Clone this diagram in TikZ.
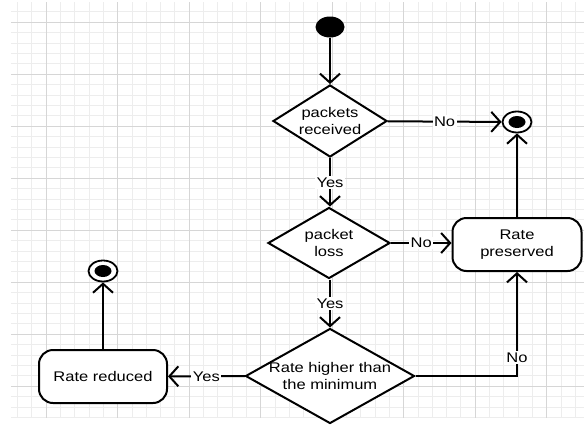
\documentclass[tikz,border=0pt]{standalone}
\usepackage{fontspec}
\usetikzlibrary{shapes.geometric,arrows.meta}
\newfontfamily\diagfam[FakeStretch=1.18]{Liberation Sans}
\newcommand\diagfont{\diagfam\fontsize{14}{17}\selectfont}
\tikzset{
  gminor/.style={draw=black!7, line width=0.6pt},
  gmajor/.style={draw=black!16, line width=0.8pt},
  conn/.style={line width=2pt, black},
  arr/.style={conn, -{Straight Barb[length=9pt,width=20pt,line width=2pt]}},
  dia/.style={draw, line width=2pt, diamond, inner sep=0pt, fill=white},
  txt/.style={align=center, font=\diagfont, inner sep=0pt},
  act/.style={draw, line width=2pt, rounded corners=14pt, fill=white,
    minimum width=129pt, minimum height=53pt, align=center, font=\diagfont},
  lbl/.style={fill=white, inner sep=1.5pt, font=\diagfont},
  startdot/.style={fill=black, ellipse, inner sep=0pt, minimum width=29pt, minimum height=21pt},
  endring/.style={draw, line width=1.8pt, ellipse, fill=white, inner sep=0pt, minimum width=29pt, minimum height=21pt},
  enddot/.style={fill=black, ellipse, inner sep=0pt, minimum width=17pt, minimum height=12pt},
}
\begin{document}
\begin{tikzpicture}[x=1pt,y=-1pt]
\useasboundingbox (0,0) rectangle (584,424);
\fill[white] (0,0) rectangle (584,424);
% grid
\foreach \k in {-2,...,37} \draw[gminor] ({46+14.3*\k},2) -- ({46+14.3*\k},418);
\foreach \k in {-1,...,38} \draw[gminor] (11,{22+10.4*\k}) -- (584,{22+10.4*\k});
\foreach \k in {0,...,7} \draw[gmajor] ({46+71.5*\k},2) -- ({46+71.5*\k},418);
\foreach \k in {0,...,7} \draw[gmajor] (11,{22+52*\k}) -- (584,{22+52*\k});

% nodes
\node[startdot] (start) at (330,27) {};
\node[dia, minimum width=114pt, minimum height=72pt] (d1) at (330,121) {};
\node[txt] (t1) at (d1) {packets\\received};
\node[dia, minimum width=122pt, minimum height=71pt] (d2) at (329,243) {};
\node[txt] (t2) at (d2) {packet\\loss};
\node[dia, minimum width=169pt, minimum height=95pt] (d3) at (330,376) {};
\node[txt] (t3) at (d3) {Rate higher than\\the minimum};
\node[act] (rp) at (517,244.5) {Rate\\preserved};
\node[act, minimum width=128pt] (rr) at (103,376.5) {Rate reduced};
\node[endring] (e1) at (517,122) {};
\node[enddot] (e1i) at (e1) {};
\node[endring] (e2) at (103,271) {};
\node[enddot] (e2i) at (e2) {};

% connectors
\draw[arr] (start) -- (d1);
\draw[arr] (d1) -- node[lbl] (l1) {No} (e1);
\draw[arr] (d1.south) -- node[lbl] (l2) {Yes} (d1.south |- d2.north);
\draw[arr] (d2) -- node[lbl] (l3) {No} (d2 -| rp.west);
\draw[arr] (d2.south -| d1.south) -- node[lbl] (l4) {Yes} (d3.north);
\draw[arr] (d3) -- node[lbl] (l5) {Yes} (rr);
\draw[arr] (d3.east) -| node[lbl, pos=0.59] (l6) {No} (rp.south);
\draw[arr] (rp) -- (e1);
\draw[arr] (rr) -- (e2);
\end{tikzpicture}
\end{document}
